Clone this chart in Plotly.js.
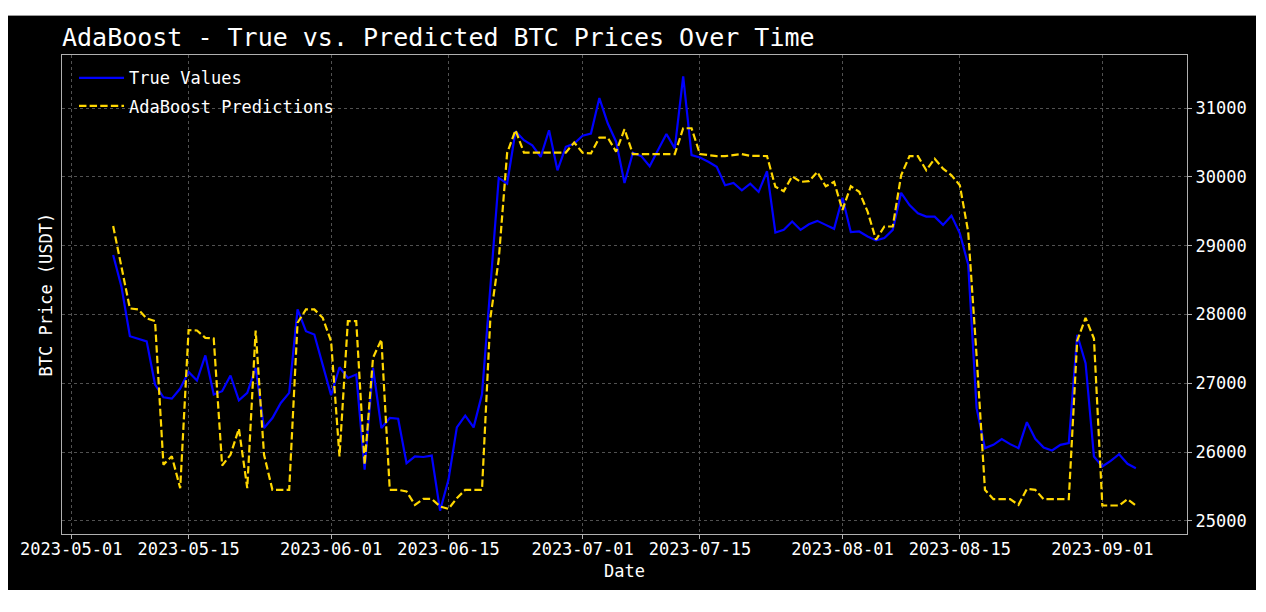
<!DOCTYPE html>
<html><head><meta charset="utf-8">
<script src="https://cdn.plot.ly/plotly-3.0.1.min.js"></script>
<style>
html,body{margin:0;padding:0;background:#ffffff;width:1266px;height:612px;overflow:hidden}
#chart{position:absolute;left:8px;top:15px;width:1248px;height:574px;background:#000;border-top:1px solid #9a9a9a;border-bottom:1px solid #9a9a9a;box-sizing:border-box}
</style></head><body><div id="chart"></div>
<script>
const dates = [
'2023-05-06','2023-05-07','2023-05-08','2023-05-09','2023-05-10','2023-05-11','2023-05-12','2023-05-13','2023-05-14','2023-05-15',
'2023-05-16','2023-05-17','2023-05-18','2023-05-19','2023-05-20','2023-05-21','2023-05-22','2023-05-23','2023-05-24','2023-05-25',
'2023-05-26','2023-05-27','2023-05-28','2023-05-29','2023-05-30','2023-05-31',
'2023-06-01','2023-06-02','2023-06-03','2023-06-04','2023-06-05','2023-06-06','2023-06-07','2023-06-08','2023-06-09','2023-06-10',
'2023-06-11','2023-06-12','2023-06-13','2023-06-14','2023-06-15','2023-06-16','2023-06-17','2023-06-18','2023-06-19','2023-06-20',
'2023-06-21','2023-06-22','2023-06-23','2023-06-24','2023-06-25','2023-06-26','2023-06-27','2023-06-28','2023-06-29','2023-06-30',
'2023-07-01','2023-07-02','2023-07-03','2023-07-04','2023-07-05','2023-07-06','2023-07-07','2023-07-08','2023-07-09','2023-07-10',
'2023-07-11','2023-07-12','2023-07-13','2023-07-14','2023-07-15','2023-07-16','2023-07-17','2023-07-18','2023-07-19','2023-07-20',
'2023-07-21','2023-07-22','2023-07-23','2023-07-24','2023-07-25','2023-07-26','2023-07-27','2023-07-28','2023-07-29','2023-07-30','2023-07-31',
'2023-08-01','2023-08-02','2023-08-03','2023-08-04','2023-08-05','2023-08-06','2023-08-07','2023-08-08','2023-08-09','2023-08-10',
'2023-08-11','2023-08-12','2023-08-13','2023-08-14','2023-08-15','2023-08-16','2023-08-17','2023-08-18','2023-08-19','2023-08-20',
'2023-08-21','2023-08-22','2023-08-23','2023-08-24','2023-08-25','2023-08-26','2023-08-27','2023-08-28','2023-08-29','2023-08-30','2023-08-31',
'2023-09-01','2023-09-02','2023-09-03','2023-09-04','2023-09-05'
];

const trueValues = [
28865,28400,27685,27650,27610,26982,26797,26778,26924,27166,
27041,27405,26837,26885,27114,26754,26861,27224,26350,26496,
26715,26861,28074,27758,27710,27268,
26826,27234,27078,27127,25744,27224,26350,26496,26486,25840,
25939,25929,25949,25150,25597,26360,26530,26360,26840,28400,
29985,29903,30664,30533,30460,30290,30678,30096,30436,30484,
30600,30630,31146,30780,30512,29912,30351,30302,30156,30390,
30624,30415,31463,30317,30283,30220,30146,29878,29912,29805,
29902,29782,30082,29192,29231,29351,29231,29312,29361,29303,29245,
29697,29197,29207,29135,29077,29111,29231,29769,29591,29471,
29423,29423,29303,29437,29180,28724,26639,26058,26106,26189,
26116,26058,26436,26194,26067,26024,26106,26130,27706,27294,25936,
25791,25873,25970,25830,25767
];

const adaPredictions = [
29287,28700,28089,28074,27943,27904,25818,25939,25477,27773,
27768,27661,27652,25805,25961,26341,25477,27768,25961,25452,
25452,25452,27880,28074,28074,27952,
27612,25939,27904,27904,25818,27370,27637,25452,25452,25428,
25234,25321,25321,25210,25175,25330,25452,25452,25452,27950,
28800,30350,30680,30354,30354,30354,30354,30354,30354,30500,
30351,30341,30571,30571,30366,30693,30332,30332,30332,30332,
30332,30332,30707,30707,30332,30317,30302,30302,30317,30332,
30307,30303,30303,29856,29793,30010,29928,29938,30072,29865,29928,
29519,29865,29784,29495,29087,29279,29279,30024,30303,30303,
30096,30264,30120,30024,29880,29200,27400,25452,25316,25316,
25316,25234,25466,25452,25316,25316,25316,25316,27620,27950,27650,
25224,25224,25224,25316,25224
];

const tickDates = ['2023-05-01','2023-05-15','2023-06-01','2023-06-15','2023-07-01','2023-07-15','2023-08-01','2023-08-15','2023-09-01'];
const tickLabels = ['2023-05-01','2023-05-15','2023-06-01','2023-06-15','2023-07-01','2023-07-15','2023-08-01','2023-08-15','2023-09-01'];
const yTicks = [25000,26000,27000,28000,29000,30000,31000];

const FONT = 'DejaVu Sans Mono, monospace';

const traces = [
  {x: dates, y: trueValues, type: 'scatter', mode: 'lines', name: 'True Values', legendgroup: 'a',
   line: {color: '#0000ff', width: 2.2}},
  {x: dates, y: adaPredictions, type: 'scatter', mode: 'lines', name: 'AdaBoost Predictions', legendgroup: 'b',
   line: {color: '#ffd700', width: 2.2, dash: '7.4px,3.2px'}}
];

const axisCommon = {
  showgrid: true, gridcolor: '#5a5a5a', gridwidth: 0.9, griddash: 'dot',
  showline: true, linecolor: '#b0b0b0', linewidth: 1.2, mirror: true,
  ticks: 'outside', ticklen: 4, tickwidth: 1, tickcolor: '#b0b0b0',
  zeroline: false,
  tickfont: {family: FONT, size: 17, color: '#ffffff'}
};

const layout = {
  width: 1248, height: 574,
  paper_bgcolor: '#000000', plot_bgcolor: '#000000',
  margin: {l: 54, r: 69, t: 39, b: 56},
  font: {family: FONT, color: '#ffffff'},
  title: {text: 'AdaBoost - True vs. Predicted BTC Prices Over Time',
          font: {family: FONT, size: 25, color: '#ffffff'},
          x: 0, xref: 'paper', xanchor: 'left', y: 1 - 21/574, yref: 'container', yanchor: 'middle'},
  showlegend: true,
  legend: {x: 0.0107, y: 0.989, xanchor: 'left', yanchor: 'top', bgcolor: 'rgba(0,0,0,0)',
           itemwidth: 45, traceorder: 'grouped', tracegroupgap: 3,
           font: {family: FONT, size: 17, color: '#ffffff'}},
  xaxis: Object.assign({}, axisCommon, {
    type: 'date',
    range: ['2023-04-29 21:36', '2023-09-11 02:24'],
    tickmode: 'array', tickvals: tickDates, ticktext: tickLabels,
    ticklabelstandoff: -5
  }),
  yaxis: Object.assign({}, axisCommon, {
    side: 'right',
    range: [24810, 31772],
    tickmode: 'array', tickvals: yTicks, tickformat: 'd'
  }),
  annotations: [
    {text: 'Date', xref: 'paper', yref: 'paper', x: 0.5, y: 0, yshift: -37, xanchor: 'center', yanchor: 'middle',
     showarrow: false, font: {family: FONT, size: 17, color: '#ffffff'}},
    {text: 'BTC Price (USDT)', xref: 'paper', yref: 'paper', x: 0, y: 0.5, xshift: -17, xanchor: 'center', yanchor: 'middle',
     textangle: -90, showarrow: false, font: {family: FONT, size: 17, color: '#ffffff'}}
  ]
};

Plotly.newPlot('chart', traces, layout, {displayModeBar: false, staticPlot: true});
</script>
</body></html>
